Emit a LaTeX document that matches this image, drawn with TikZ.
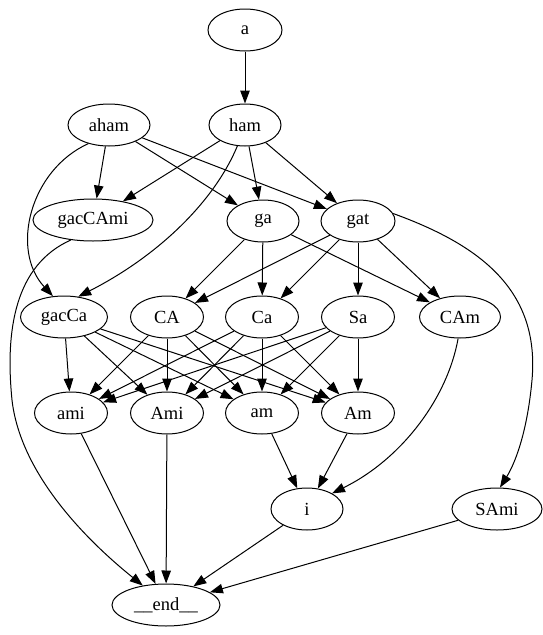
\documentclass[tikz,border=0pt]{standalone}
\usepackage{fontspec}
\setmainfont{Liberation Serif}
\usetikzlibrary{shapes.geometric,arrows.meta}
\begin{document}
\begin{tikzpicture}[x=1pt,y=-1pt,
  nd/.style={ellipse,draw,line width=1pt,inner sep=0pt,minimum height=42pt,font=\fontsize{18.5}{20}\selectfont},
  ed/.style={line width=1pt,-{Triangle[length=13pt,width=9.5pt]}}]
\useasboundingbox (0,0) rectangle (543,635);
\node[nd,minimum width=74pt] (a) at (245,30) {a};
\node[nd,minimum width=72pt] (ham) at (245,125) {ham};
\node[nd,minimum width=82pt] (aham) at (109,125) {aham};
\node[nd,minimum width=120pt] (gacCAmi) at (93,220) {gacCAmi};
\node[nd,minimum width=72pt] (ga) at (263,221) {ga};
\node[nd,minimum width=74pt] (gat) at (358,221) {gat};
\node[nd,minimum width=87pt] (gacCa) at (64,317) {gacCa};
\node[nd,minimum width=73pt] (CA) at (167,317) {CA};
\node[nd,minimum width=73pt] (Ca) at (262,317) {Ca};
\node[nd,minimum width=73pt] (Sa) at (358,317) {Sa};
\node[nd,minimum width=81pt] (CAm) at (460,317) {CAm};
\node[nd,minimum width=73pt] (ami) at (71,413) {ami};
\node[nd,minimum width=73pt] (Ami) at (167,413) {Ami};
\node[nd,minimum width=73pt] (am) at (262,413) {am};
\node[nd,minimum width=73pt] (Am) at (358,413) {Am};
\node[nd,minimum width=72pt] (i) at (307,509) {i};
\node[nd,minimum width=90pt] (SAmi) at (497,509) {SAmi};
\node[nd,minimum width=108pt] (end) at (166,605) {\_\_end\_\_};

\draw[ed] (a) -- (ham);
\draw[ed] (aham) -- (gacCAmi);
\draw[ed] (aham.222) .. controls (30,170) and (10,250) .. (gacCa.118);
\draw[ed] (aham) -- (ga);
\draw[ed] (aham) -- (gat);
\draw[ed] (ham) -- (gacCAmi);
\draw[ed] (ham) -- (ga);
\draw[ed] (ham) -- (gat);
\draw[ed] (ham.250) .. controls (215,200) and (160,255) .. (gacCa.55);
\draw[ed] (gacCAmi.222) .. controls (15,265) and (5,330) .. (12,400) .. controls (20,470) and (80,535) .. (end.140);
\draw[ed] (ga) -- (CA);
\draw[ed] (ga) -- (Ca);
\draw[ed] (ga) -- (CAm);
\draw[ed] (gat) -- (CA);
\draw[ed] (gat) -- (Ca);
\draw[ed] (gat) -- (Sa);
\draw[ed] (gat) -- (CAm);
\draw[ed] (gat.12) .. controls (480,245) and (540,290) .. (532,380) .. controls (527,435) and (514,465) .. (SAmi.82);
\foreach \s in {gacCa,CA,Ca,Sa}{
  \foreach \t in {ami,Ami,am,Am}{
    \draw[ed] (\s) -- (\t);
  }
}
\draw[ed] (CAm.265) .. controls (447,400) and (400,460) .. (i.32);
\draw[ed] (ami) -- (end);
\draw[ed] (Ami) -- (end);
\draw[ed] (am) -- (i);
\draw[ed] (Am) -- (i);
\draw[ed] (i) -- (end);
\draw[ed] (SAmi) -- (end);
\end{tikzpicture}
\end{document}
